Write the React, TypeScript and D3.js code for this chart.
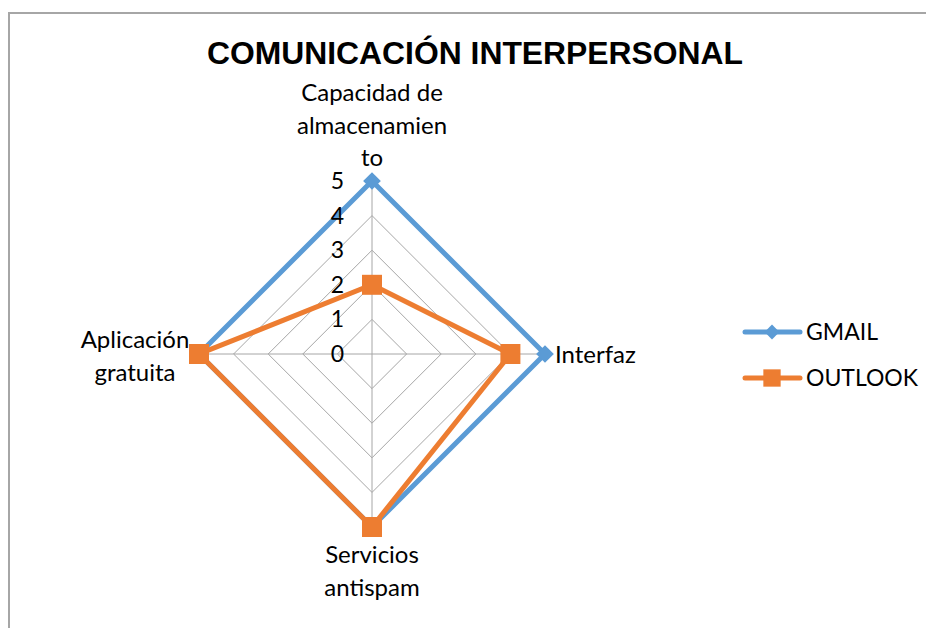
import { useEffect, useRef } from "react";
import * as d3 from "d3";

const axesLabels = [
  ["Capacidad de", "almacenamien", "to"],
  ["Interfaz"],
  ["Servicios", "antispam"],
  ["Aplicación", "gratuita"],
];
const gmail = [5, 5, 5, 5];
const outlook = [2, 4, 5, 5];
const ticks = [0, 1, 2, 3, 4, 5];
const seriesNames = ["GMAIL", "OUTLOOK"];

export default function App() {
  const svgRef = useRef<SVGSVGElement>(null);

  const width = 926;
  const height = 628;
  const cx = 372;
  const cy = 354;
  const radius = 173;

  useEffect(() => {
    const svg = d3.select(svgRef.current);
    svg.selectAll("*").remove();

    const font = "Lato, 'Open Sans', sans-serif";
    const r = d3.scaleLinear().domain([0, 5]).range([0, radius]);
    const angle = (i: number) => (i * 2 * Math.PI) / axesLabels.length;
    const pt = (i: number, v: number): [number, number] => [
      cx + r(v) * Math.sin(angle(i)),
      cy - r(v) * Math.cos(angle(i)),
    ];

    // frame
    svg.append("rect")
      .attr("x", 9)
      .attr("y", 13)
      .attr("width", 940)
      .attr("height", 640)
      .attr("fill", "none")
      .attr("stroke", "#a6a6a6")
      .attr("stroke-width", 2);

    svg.append("text")
      .attr("x", 475)
      .attr("y", 64)
      .attr("text-anchor", "middle")
      .attr("font-family", "'Liberation Sans', Arial, sans-serif")
      .attr("font-weight", "bold")
      .attr("font-size", 32)
      .attr("textLength", 536)
      .attr("lengthAdjust", "spacingAndGlyphs")
      .text("COMUNICACIÓN INTERPERSONAL");

    const grid = svg.append("g");
    const line = d3.line<[number, number]>();
    ticks.slice(1).forEach((t) => {
      const pts = axesLabels.map((_, i) => pt(i, t));
      grid.append("path")
        .attr("d", line(pts) + "Z")
        .attr("fill", "none")
        .attr("stroke", "#a6a6a6")
        .attr("stroke-width", 1);
    });
    axesLabels.forEach((_, i) => {
      const [x, y] = pt(i, 5);
      grid.append("line")
        .attr("x1", cx)
        .attr("y1", cy)
        .attr("x2", x)
        .attr("y2", y)
        .attr("stroke", "#a6a6a6")
        .attr("stroke-width", 1);
    });

    // series
    const colors = ["#5b9bd5", "#ed7d31"];
    [gmail, outlook].forEach((vals, s) => {
      const pts = vals.map((v, i) => pt(i, v));
      svg.append("path")
        .attr("d", line(pts) + "Z")
        .attr("fill", "none")
        .attr("stroke", colors[s])
        .attr("stroke-width", 5)
        .attr("stroke-linejoin", "miter");
      svg.append("g")
        .selectAll("path")
        .data(pts)
        .join("path")
        .attr("transform", (d) => `translate(${d[0]},${d[1]})`)
        .attr("d", s === 0
          ? d3.symbol(d3.symbolDiamond2, 200)()
          : d3.symbol(d3.symbolSquare, 400)())
        .attr("fill", colors[s]);
    });

    // tick labels (drawn above the lines, as in the original)
    svg.append("g")
      .selectAll("text")
      .data(ticks)
      .join("text")
      .attr("x", 344)
      .attr("y", (d) => cy - r(d) + 8)
      .attr("text-anchor", "end")
      .attr("font-family", font)
      .attr("font-size", 23)
      .attr("fill", "#000")
      .text((d) => d);

    // axis labels
    const labelPos: [number, number, string][] = [
      [372, 101, "middle"],
      [555, 363, "start"],
      [372, 563, "middle"],
      [135, 348, "middle"],
    ];
    axesLabels.forEach((lines, i) => {
      const [x, y, anchor] = labelPos[i];
      const t = svg.append("text")
        .attr("x", x)
        .attr("y", y)
        .attr("text-anchor", anchor)
        .attr("font-family", font)
        .attr("font-size", 24)
        .attr("fill", "#000");
      lines.forEach((l, j) => {
        t.append("tspan")
          .attr("x", x)
          .attr("y", y + j * 32.5)
          .text(l);
      });
    });

    // legend
    const lg = svg.append("g")
      .selectAll("g")
      .data(seriesNames)
      .join("g")
      .attr("transform", (d, i) => `translate(745,${332 + i * 46})`);
    lg.append("line")
      .attr("x1", 0)
      .attr("x2", 55)
      .attr("stroke", (d, i) => colors[i])
      .attr("stroke-width", 5)
      .attr("stroke-linecap", "round");
    lg.append("path")
      .attr("transform", "translate(27,0)")
      .attr("d", (d, i) => i === 0
        ? d3.symbol(d3.symbolDiamond2, 140)()
        : d3.symbol(d3.symbolSquare, 300)())
      .attr("fill", (d, i) => colors[i]);
    lg.append("text")
      .attr("x", 61)
      .attr("y", 8)
      .attr("font-family", font)
      .attr("font-size", 23)
      .attr("fill", "#000")
      .text((d) => d);
  }, []);

  return (
    <svg
      ref={svgRef}
      width={width}
      height={height}
      style={{ position: "absolute", left: 0, top: 0, background: "#fff" }}
    ></svg>
  );
}
